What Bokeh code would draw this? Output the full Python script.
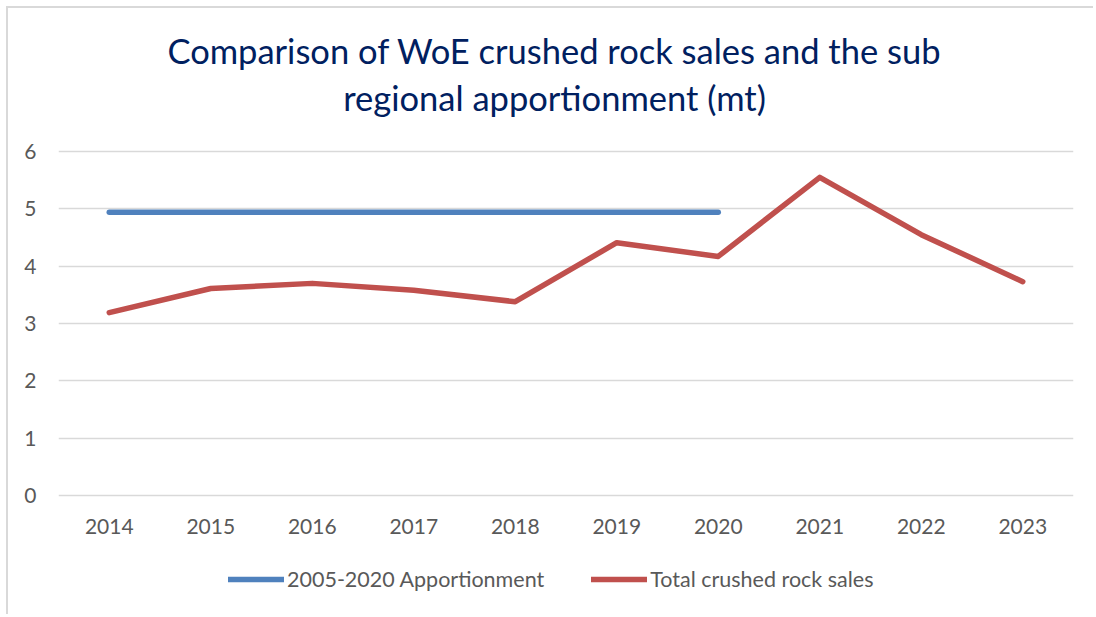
from bokeh.plotting import figure
from bokeh.models import Range1d, FactorRange, Label, Legend, LegendItem
from bokeh.embed import file_html
from bokeh.resources import INLINE

years = ["2014", "2015", "2016", "2017", "2018", "2019", "2020", "2021", "2022", "2023"]
apportionment = [4.94, 4.94, 4.94, 4.94, 4.94, 4.94, 4.94]
sales = [3.19, 3.61, 3.70, 3.58, 3.38, 4.41, 4.17, 5.55, 4.55, 3.73]
title_lines = ["Comparison of WoE crushed rock sales and the sub", "regional apportionment (mt)"]

FONT = "Lato"
GREY = "#595959"

# frame spans the full height so the legend and category labels can sit inside it
p = figure(width=1087, height=608, x_range=FactorRange(*years), y_range=Range1d(-2.110, 8.494),
           output_backend="svg", toolbar_location=None,
           min_border_left=50, min_border_right=22, min_border_top=0, min_border_bottom=0)
p.outline_line_color = None
p.background_fill_color = "white"
p.border_fill_color = "white"
p.title.visible = False

for txt, yy in zip(title_lines, [7.762, 6.942]):
    p.add_layout(Label(x=4.887, y=yy, text=txt, text_align="center", text_baseline="middle",
                       text_font=FONT, text_font_size="34.5px", text_color="#002060"))

b = p.line(years[:len(apportionment)], apportionment, line_color="#4F81BD", line_width=5.5,
           line_cap="round", line_join="round")
r = p.line(years, sales, line_color="#C0504D", line_width=5.5, line_cap="round", line_join="round")

p.text(x=years, y=-0.541, text=years, text_align="center", text_baseline="middle",
       text_font={"value": FONT}, text_font_size={"value": "21px"}, text_color=GREY)

p.xaxis.visible = False
p.xgrid.grid_line_color = None
p.ygrid.grid_line_color = "#d9d9d9"
p.ygrid.grid_line_width = 1.5
p.yaxis.ticker = [0, 1, 2, 3, 4, 5, 6]
p.ygrid.ticker = [0, 1, 2, 3, 4, 5, 6]
ax = p.yaxis[0]
ax.axis_line_color = None
ax.major_tick_line_color = None
ax.minor_tick_line_color = None
ax.major_label_text_font = FONT
ax.major_label_text_font_size = "21px"
ax.major_label_text_color = GREY
ax.major_label_standoff = 16

legend = Legend(items=[LegendItem(label="2005-2020 Apportionment", renderers=[b]),
                       LegendItem(label="Total crushed rock sales", renderers=[r])],
                orientation="horizontal", location=(170, 24), border_line_color=None,
                label_text_font=FONT, label_text_font_size="21.5px", label_text_color=GREY,
                glyph_width=56, glyph_height=24, spacing=47, label_standoff=3,
                margin=0, padding=0, background_fill_alpha=0)
p.add_layout(legend, "center")

p.styles = {"margin-left": "6px", "margin-top": "6px",
            "border-left": "2px solid #d9d9d9", "border-top": "2px solid #d9d9d9"}

open("out.html", "w").write(file_html(p, INLINE))
